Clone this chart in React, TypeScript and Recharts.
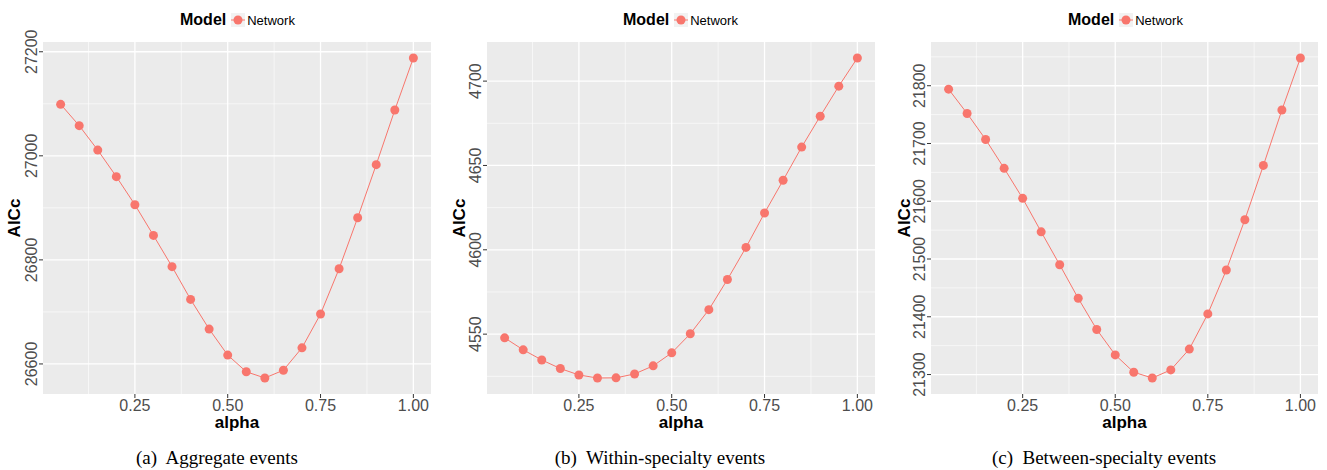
import React from 'react';
import { LineChart, Line, XAxis, YAxis, CartesianGrid } from 'recharts';

const ALPHA = [0.05, 0.1, 0.15, 0.2, 0.25, 0.3, 0.35, 0.4, 0.45, 0.5, 0.55, 0.6, 0.65, 0.7, 0.75, 0.8, 0.85, 0.9, 0.95, 1.0];
const AGGREGATE = [27099, 27058, 27011, 26960, 26906, 26847, 26787, 26724, 26667, 26617, 26585, 26573, 26588, 26631, 26696, 26783, 26881, 26983, 27088, 27188];
const WITHIN = [4547.8, 4540.7, 4534.7, 4529.6, 4525.8, 4524.0, 4524.1, 4526.4, 4531.2, 4538.9, 4550.2, 4564.5, 4582.4, 4601.4, 4621.8, 4641.2, 4660.9, 4679.2, 4697.0, 4713.7];
const BETWEEN = [21794, 21752, 21707, 21657, 21605, 21547, 21490, 21432, 21378, 21334, 21304, 21294, 21308, 21344, 21405, 21481, 21568, 21662, 21758, 21848];

const X_TICKS = [0.25, 0.5, 0.75, 1.0];
const X_MINOR = [0.125, 0.375, 0.625, 0.875];
const AGG_TICKS = [26600, 26800, 27000, 27200];
const AGG_MINOR = [26700, 26900, 27100];
const WITHIN_TICKS = [4550, 4600, 4650, 4700];
const WITHIN_MINOR = [4525, 4575, 4625, 4675];
const BETWEEN_TICKS = [21300, 21400, 21500, 21600, 21700, 21800];
const BETWEEN_MINOR = [21350, 21450, 21550, 21650, 21750, 21850];

const RED = '#F8766D';
const SANS = '"Liberation Sans", Arial, Helvetica, sans-serif';

// ggplot-style 5% expansion of the data range
const expand = (vals: number[]): [number, number] => {
  const lo = Math.min(...vals), hi = Math.max(...vals);
  const pad = (hi - lo) * 0.05;
  return [lo - pad, hi + pad];
};

const XTick = ({ x, y, payload }: any) => (
  <g>
    <line x1={x} x2={x} y1={y} y2={y + 4} stroke="#333" strokeWidth={1} />
    <text x={x} y={y + 17} textAnchor="middle" fill="#4D4D4D" fontSize={16} fontFamily={SANS}>
      {payload.value.toFixed(2)}
    </text>
  </g>
);

const YTick = ({ x, y, payload }: any) => (
  <g>
    <line x1={x - 4} x2={x} y1={y} y2={y} stroke="#333" strokeWidth={1} />
    <text x={x - 6} y={y} transform={`rotate(-90 ${x - 6} ${y})`} textAnchor="middle" fill="#4D4D4D" fontSize={16} fontFamily={SANS}>
      {payload.value}
    </text>
  </g>
);

interface PanelProps {
  left: number; width: number; axisWidth: number; right: number;
  values: number[]; ticks: number[]; minor: number[];
  legendX: number; aiccX: number; caption: string; captionX: number;
}

function Panel({ left, width, axisWidth, right, values, ticks, minor, legendX, aiccX, caption, captionX }: PanelProps) {
  const data = ALPHA.map((a, i) => ({ alpha: a, aicc: values[i] }));
  const plotLeft = axisWidth;
  const plotRight = width - right;
  const mid = (plotLeft + plotRight) / 2;
  return (
    <div style={{ position: 'absolute', left, top: 0, width, height: 470 }}>
      <LineChart width={width} height={440} data={data} margin={{ top: 42, right, bottom: 0, left: 0 }}>
        <CartesianGrid fill="#EBEBEB" fillOpacity={1} stroke="#FFFFFF" strokeWidth={0.6}
          horizontalValues={minor} verticalValues={X_MINOR} />
        <CartesianGrid fill="none" stroke="#FFFFFF" strokeWidth={1.3}
          horizontalValues={ticks} verticalValues={X_TICKS} />
        <XAxis dataKey="alpha" type="number" domain={[0.0025, 1.0475]} ticks={X_TICKS} allowDataOverflow
          height={46} axisLine={false} tickLine={false} tickSize={0} tickMargin={0} tick={<XTick />} interval={0} />
        <YAxis type="number" domain={expand(values)} ticks={ticks} allowDataOverflow
          width={axisWidth} axisLine={false} tickLine={false} tickSize={0} tickMargin={0} tick={<YTick />} interval={0} />
        <Line type="linear" dataKey="aicc" stroke={RED} strokeWidth={1}
          dot={{ r: 4.5, fill: RED, stroke: RED, strokeWidth: 0 }} activeDot={false} isAnimationActive={false} />
      </LineChart>
      <div style={{ position: 'absolute', left: legendX, top: 11, display: 'flex', alignItems: 'center', fontFamily: SANS, whiteSpace: 'nowrap' }}>
        <span style={{ fontWeight: 'bold', fontSize: 16, color: '#000' }}>Model</span>
        <svg width={14} height={14} style={{ marginLeft: 5, marginRight: 2 }}>
          <rect x={0} y={0} width={14} height={14} fill="#F2F2F2" />
          <line x1={0} x2={14} y1={7} y2={7} stroke={RED} strokeWidth={1} />
          <circle cx={7} cy={7} r={4.5} fill={RED} />
        </svg>
        <span style={{ fontSize: 13, color: '#000' }}>Network</span>
      </div>
      <div style={{ position: 'absolute', left: mid - 40, width: 80, top: 413, textAlign: 'center', fontFamily: SANS, fontWeight: 'bold', fontSize: 17 }}>alpha</div>
      <div style={{ position: 'absolute', left: aiccX - 40, width: 80, top: 208, textAlign: 'center', fontFamily: SANS, fontWeight: 'bold', fontSize: 17, transform: 'rotate(-90deg)' }}>AICc</div>
      <div style={{ position: 'absolute', left: captionX - 160, width: 320, top: 447, textAlign: 'center', fontFamily: '"Liberation Serif", "Times New Roman", serif', fontSize: 19, whiteSpace: 'pre' }}>{caption}</div>
    </div>
  );
}

export default function App() {
  return (
    <div style={{ position: 'absolute', left: 0, top: 0, width: 1327, height: 470, background: '#fff' }}>
      <Panel left={0} width={440} axisWidth={43} right={9} values={AGGREGATE} ticks={AGG_TICKS} minor={AGG_MINOR}
        legendX={180} aiccX={15} caption="(a)  Aggregate events" captionX={217} />
      <Panel left={440} width={440} axisWidth={47} right={5} values={WITHIN} ticks={WITHIN_TICKS} minor={WITHIN_MINOR}
        legendX={183} aiccX={20} caption="(b)  Within-specialty events" captionX={220} />
      <Panel left={880} width={447} axisWidth={51} right={9} values={BETWEEN} ticks={BETWEEN_TICKS} minor={BETWEEN_MINOR}
        legendX={188} aiccX={25} caption="(c)  Between-specialty events" captionX={224} />
    </div>
  );
}
